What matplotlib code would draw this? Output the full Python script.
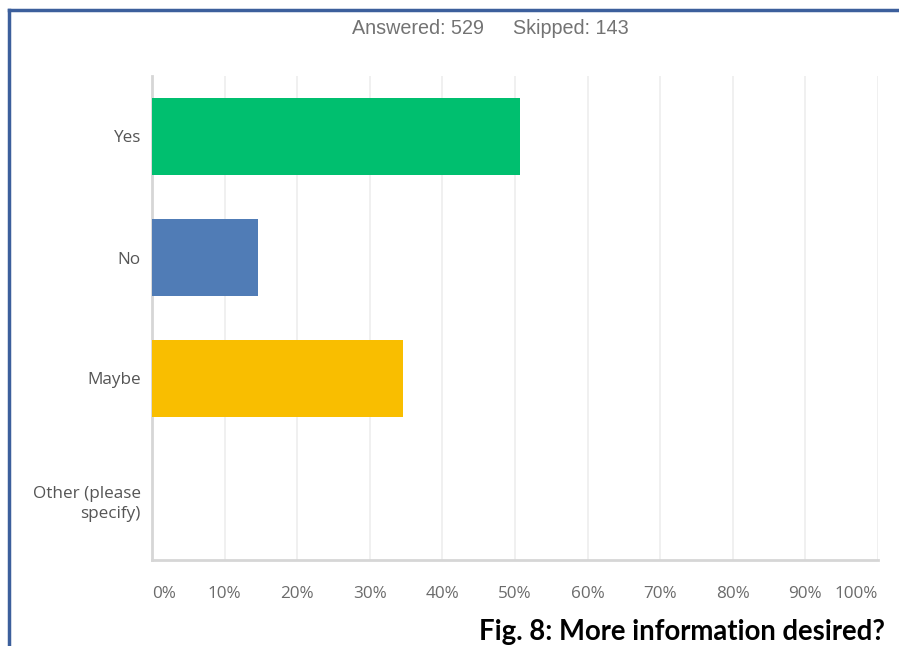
import matplotlib.pyplot as plt

# survey responses, percent of answered
answers = ["Yes", "No", "Maybe", "Other (please\nspecify)"]
percent = [50.66, 14.56, 34.59, 0.0]
colors = ["#00bf6f", "#507cb6", "#f9be00", "#6bc8cd"]

ticks = [0, 10, 20, 30, 40, 50, 60, 70, 80, 90, 100]
tick_labels = [f"{t}%" for t in ticks]

answered = 529
skipped = 143

fig = plt.figure(figsize=(8.99, 6.46), dpi=100)
ax = fig.add_axes([152 / 899, 1 - 560 / 646, 726 / 899, 484 / 646])

pos = list(range(len(answers)))
ax.barh(pos, percent, height=0.63, color=colors, zorder=3)

ax.set_xlim(0, 100)
ax.set_ylim(len(answers) - 0.5, -0.5)

ax.set_xticks(ticks)
ax.set_xticklabels(tick_labels, family="Open Sans", fontsize=12.3, color="#6b6b6b")
xl = ax.get_xticklabels()
xl[0].set_ha("left")
xl[-1].set_ha("right")
ax.set_yticks(pos)
ax.set_yticklabels(answers, family="Open Sans", fontsize=12.3, color="#555555",
                   linespacing=1.4)
ax.tick_params(axis="both", length=0)
ax.tick_params(axis="x", pad=19)
ax.tick_params(axis="y", pad=8)

ax.grid(axis="x", color="#eeeeee", linewidth=1.2, zorder=0)
for side in ["top", "right"]:
    ax.spines[side].set_visible(False)
for side in ["left", "bottom"]:
    ax.spines[side].set_color("#d6d6d6")
    ax.spines[side].set_linewidth(2)

fig.text(352 / 899, 1 - 29 / 646, f"Answered: {answered}", family="Liberation Sans",
         fontsize=14.2, color="#737373", va="center", ha="left")
fig.text(513 / 899, 1 - 29 / 646, f"Skipped: {skipped}", family="Liberation Sans",
         fontsize=14.2, color="#737373", va="center", ha="left")

fig.text(885 / 899, 1 - 632 / 646, "Fig. 8: More information desired?",
         family="Lato", fontweight="bold", fontsize=19.8, color="black",
         ha="right", va="center")

# frame lines along the top and left edge
fig.add_artist(plt.Line2D([9 / 899, 1], [1 - 10 / 646, 1 - 10 / 646],
                          color="#3c5f9c", linewidth=2.5))
fig.add_artist(plt.Line2D([9 / 899, 9 / 899], [0, 1 - 10 / 646],
                          color="#3c5f9c", linewidth=2.5))

fig.savefig("out.png", dpi=100)
